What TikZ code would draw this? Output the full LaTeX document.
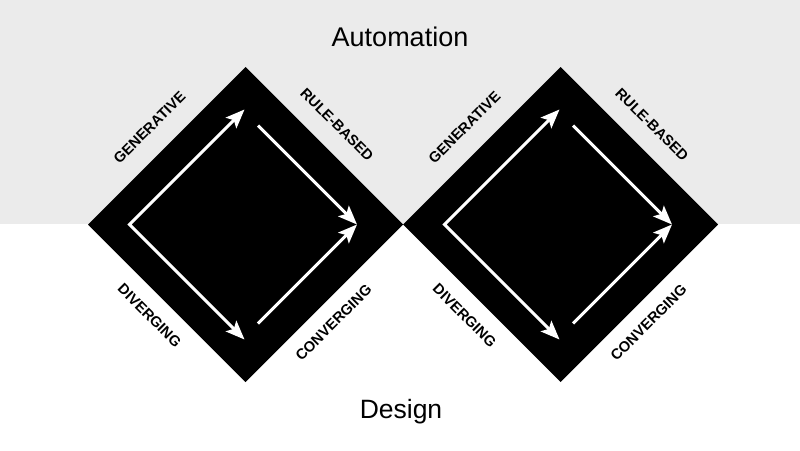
\documentclass[tikz,border=0pt]{standalone}
\usepackage{fontspec}
\setmainfont{Liberation Sans}
\usetikzlibrary{arrows.meta}
\definecolor{topgray}{RGB}{235,235,235}
\tikzset{
  headtip/.tip={Stealth[length=19pt,width=15pt,inset=4pt]},
  flowarrow/.style={draw=white, line width=3pt, line join=miter, -headtip},
  twowayarrow/.style={draw=white, line width=3pt, line join=miter, headtip-headtip},
  sidelabel/.style={font=\bfseries\fontsize{14.7}{16}\selectfont, inner sep=0pt, anchor=center},
  titlelabel/.style={font=\fontsize{27}{30}\selectfont, inner sep=0pt, anchor=base},
}
\newcommand\dualdiamond[2]{%
  \begin{scope}[shift={(#2,224.5)}]
    \fill[black] (0,-157.5) -- (157.5,0) -- (0,157.5) -- (-157.5,0) -- cycle;
    \coordinate (#1corner) at (-116,0);
    \coordinate (#1top) at (-1,-115);
    \coordinate (#1bot) at (-1,115);
    \coordinate (#1rs) at (12.5,-99);
    \coordinate (#1cs) at (12.5,99);
    \coordinate (#1tip) at (111.5,0);
    \draw[twowayarrow] (#1top) -- (#1corner) -- (#1bot);
    \draw[flowarrow] (#1rs) -- (#1tip);
    \draw[flowarrow] (#1cs) -- (#1tip);
    \node[sidelabel, rotate=45] (#1gen) at (-96,-97) {GENERATIVE};
    \node[sidelabel, rotate=-45] (#1rule) at (91.5,-100) {RULE-BASED};
    \node[sidelabel, rotate=-45] (#1div) at (-96,91) {DIVERGING};
    \node[sidelabel, rotate=45] (#1conv) at (88,98) {CONVERGING};
  \end{scope}
}
\begin{document}
\begin{tikzpicture}[x=1pt,y=-1pt]
  \useasboundingbox (0,0) rectangle (800,450);
  \fill[white] (0,0) rectangle (800,450);
  \fill[topgray] (0,0) rectangle (800,224);
  \dualdiamond{a}{245.5}
  \dualdiamond{b}{560.5}
  \node[titlelabel] (automation) at (400,46.7) {Automation};
  \node[titlelabel, font=\fontsize{26.5}{30}\selectfont] (design) at (401,418.3) {Design};
\end{tikzpicture}
\end{document}
